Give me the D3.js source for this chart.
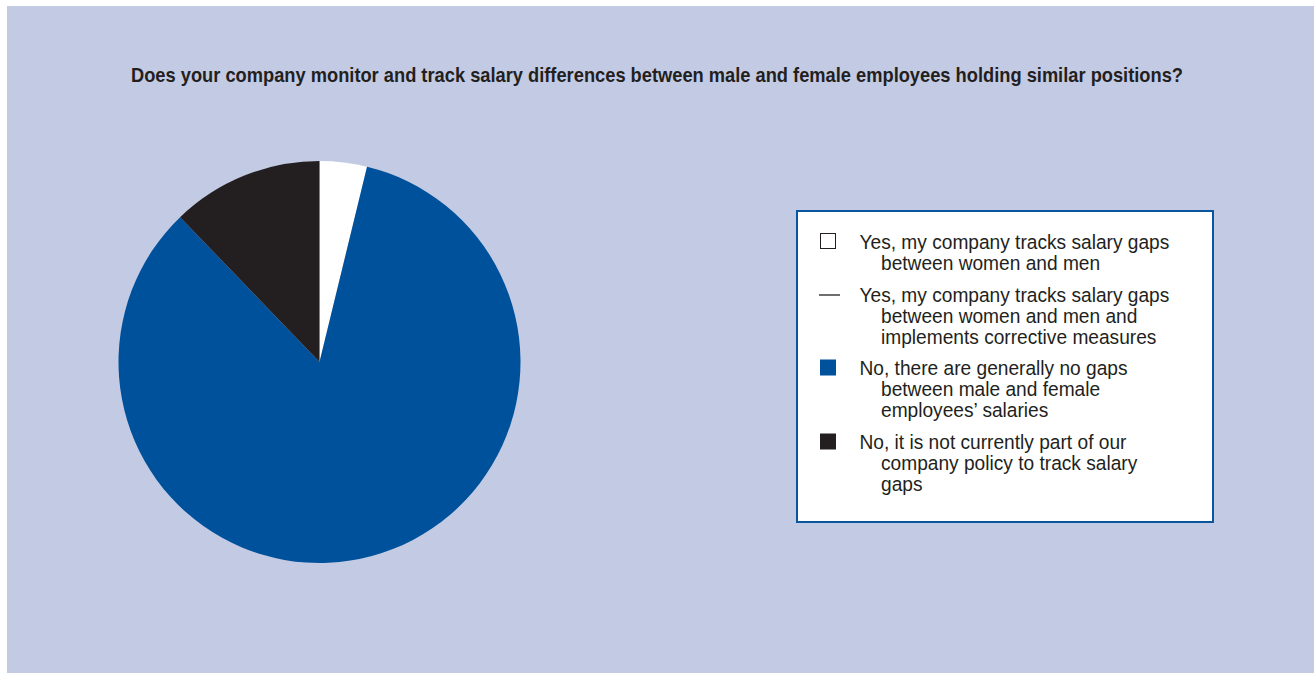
<!DOCTYPE html>
<html>
<head>
<meta charset="utf-8">
<script src="https://cdnjs.cloudflare.com/ajax/libs/d3/7.8.5/d3.min.js"></script>
<style>
  html, body { margin: 0; padding: 0; background: #ffffff; }
  svg { display: block; }
</style>
</head>
<body>
<svg id="chart" width="1314" height="673"></svg>
<script>
// Survey answers, in the order they are drawn clockwise from 12 o'clock
const categories = [
  "Yes, my company tracks salary gaps|between women and men",
  "Yes, my company tracks salary gaps|between women and men and|implements corrective measures",
  "No, there are generally no gaps|between male and female|employees\u2019 salaries",
  "No, it is not currently part of our|company policy to track salary|gaps"
];
const shares = [3.8, 0, 84.0, 12.2];
const sliceColors = ["#ffffff", "#ffffff", "#00519b", "#231f20"];
const legendMarks = ["box", "dash", "fill", "fill"];
const title = "Does your company monitor and track salary differences between male and female employees holding similar positions?";

const svg = d3.select("#chart");
const sans = "'Liberation Sans', Arial, Helvetica, sans-serif";
const ink = "#231f20";

// panel background
svg.append("rect")
  .attr("x", 7).attr("y", 6)
  .attr("width", 1307).attr("height", 667)
  .attr("fill", "#c3cbe4");

// title, squeezed into a condensed look
svg.append("text")
  .attr("x", 131).attr("y", 81.5)
  .attr("font-family", sans)
  .attr("font-weight", "bold")
  .attr("font-size", 20.5)
  .attr("fill", ink)
  .attr("textLength", 1052)
  .attr("lengthAdjust", "spacingAndGlyphs")
  .text(title);

// pie
const data = categories.map((c, i) => ({ label: c, value: shares[i], color: sliceColors[i] }));
const pie = d3.pie().sort(null).value(d => d.value).startAngle(0).endAngle(2 * Math.PI);
const radius = 201;
const arc = d3.arc().innerRadius(0).outerRadius(radius);
const g = svg.append("g").attr("transform", "translate(319.5,362)");
g.selectAll("path")
  .data(pie(data).filter(d => d.data.value > 0))
  .join("path")
  .attr("d", arc)
  .attr("fill", d => d.data.color);

// legend box
svg.append("rect")
  .attr("x", 797).attr("y", 211)
  .attr("width", 416).attr("height", 311)
  .attr("fill", "#ffffff")
  .attr("stroke", "#0a55a0")
  .attr("stroke-width", 2);

// horizontal squeeze so the regular face reads as a condensed one
const probe = svg.append("text")
  .attr("font-family", sans).attr("font-size", 19.5)
  .text(categories[0].split("|")[0]);
const squeeze = 310 / probe.node().getComputedTextLength();
probe.remove();

const baselines = [248.5, 301.5, 375, 449];
const lineH = 21;
const leg = svg.append("g");
data.forEach((d, i) => {
  const y = baselines[i];
  const kind = legendMarks[i];
  if (kind === "dash") {
    leg.append("line")
      .attr("x1", 819).attr("x2", 840)
      .attr("y1", y - 6.5).attr("y2", y - 6.5)
      .attr("stroke", ink).attr("stroke-width", 1.3);
  } else {
    leg.append("rect")
      .attr("x", kind === "box" ? 820.5 : 820)
      .attr("y", kind === "box" ? y - 15 : y - 15.5)
      .attr("width", kind === "box" ? 15 : 16)
      .attr("height", kind === "box" ? 15 : 16)
      .attr("fill", d.color)
      .attr("stroke", kind === "box" ? ink : "none")
      .attr("stroke-width", 1);
  }
  d.label.split("|").forEach((line, j) => {
    leg.append("text")
      .attr("transform", `translate(${j === 0 ? 859.5 : 881},${y + j * lineH}) scale(${squeeze},1)`)
      .attr("font-family", sans)
      .attr("font-size", 19.5)
      .attr("fill", ink)
      .text(line);
  });
});
</script>
</body>
</html>
